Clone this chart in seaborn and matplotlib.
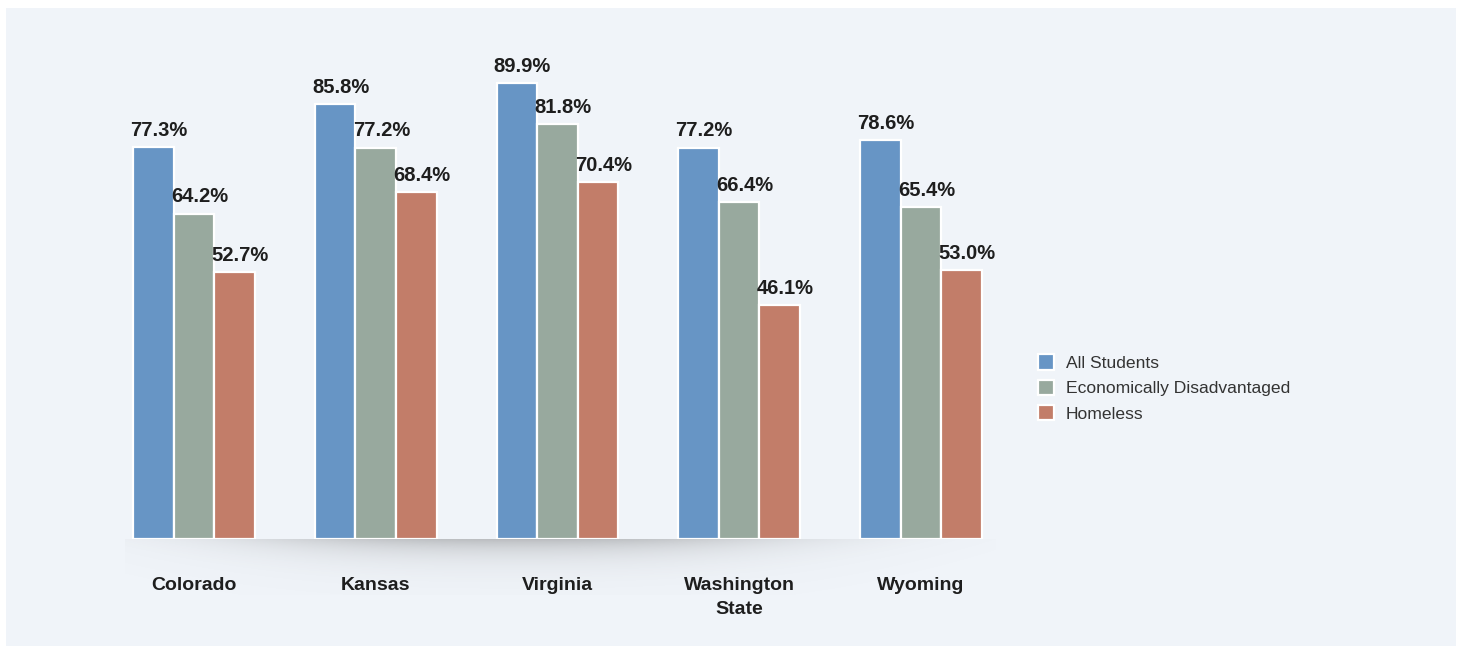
import numpy as np
import pandas as pd
import matplotlib.pyplot as plt
import seaborn as sns
from matplotlib.patches import Rectangle

states = ["Colorado", "Kansas", "Virginia", "Washington\nState", "Wyoming"]
groups = ["All Students", "Economically Disadvantaged", "Homeless"]
all_students = [77.3, 85.8, 89.9, 77.2, 78.6]
econ_disadv = [64.2, 77.2, 81.8, 66.4, 65.4]
homeless = [52.7, 68.4, 70.4, 46.1, 53.0]
colors = ["#6795c5", "#98a99e", "#c27d69"]

rows = []
for g, vals in zip(groups, [all_students, econ_disadv, homeless]):
    for s, v in zip(states, vals):
        rows.append({"state": s, "group": g, "value": v})
df = pd.DataFrame(rows)

sns.set_style("white")
plt.rcParams["font.family"] = ["Liberation Sans", "DejaVu Sans"]

W, H = 1460, 648
fig = plt.figure(figsize=(14.6, 6.48), dpi=100, facecolor="white")
# panel background
fig.patches.append(Rectangle((6 / W, 2 / H), 1450 / W, 638 / H,
                             transform=fig.transFigure, facecolor="#f0f4f9",
                             edgecolor="none", zorder=-10))

# soft shadow under the baseline
sh = fig.add_axes([125 / W, (648 - 595) / H, 870 / W, 56 / H])
xs = np.linspace(0, 1, 400)
ys = np.linspace(0, 1, 60)
ax_prof = np.exp(-np.abs((xs - 0.45) / 0.32) ** 2.5)
ay_prof = np.exp(-ys / 0.28)
alpha = np.outer(ay_prof, ax_prof) * 0.38
img = np.zeros((60, 400, 4))
img[..., :3] = 0.4
img[..., 3] = alpha
sh.imshow(img, aspect="auto", extent=(0, 1, 0, 1), origin="upper")
sh.axis("off")

ax = fig.add_axes([120 / W, (648 - 539) / H, 880 / W, 507 / H])
ax.set_facecolor("none")
sns.barplot(data=df, x="state", y="value", hue="group", palette=colors,
            width=0.67, edgecolor="white", linewidth=1.6, ax=ax,
            saturation=1, legend=True)

ax.set_xlim((120 - 194) / 181.7, (1000 - 194) / 181.7)
ax.set_ylim(0, 100)
for sp in ax.spines.values():
    sp.set_visible(False)
ax.set_yticks([])
ax.set_xlabel("")
ax.set_ylabel("")
ax.tick_params(axis="x", length=0, pad=27)
for lab in ax.get_xticklabels():
    lab.set_fontsize(14)
    lab.set_fontweight("bold")
    lab.set_color("#1e1e1e")
    lab.set_linespacing(1.55)

for cont in ax.containers:
    for bar, v in zip(cont, cont.datavalues):
        ax.annotate(f"{v:.1f}%", (bar.get_x() + bar.get_width() / 2, v),
                    xytext=(4, 8), textcoords="offset points",
                    ha="center", va="baseline", fontsize=14.5,
                    fontweight="bold", color="#1e1e1e")

handles, labels = ax.get_legend_handles_labels()
ax.get_legend().remove()
leg = fig.legend(handles, labels, loc="center left",
                 bbox_to_anchor=(1022 / W, (648 - 388) / H),
                 frameon=False, fontsize=12.6, handlelength=0.95,
                 handleheight=0.95, handletextpad=0.65, labelspacing=0.5,
                 labelcolor="#333333")

fig.savefig("out.png", dpi=100, facecolor="white")
